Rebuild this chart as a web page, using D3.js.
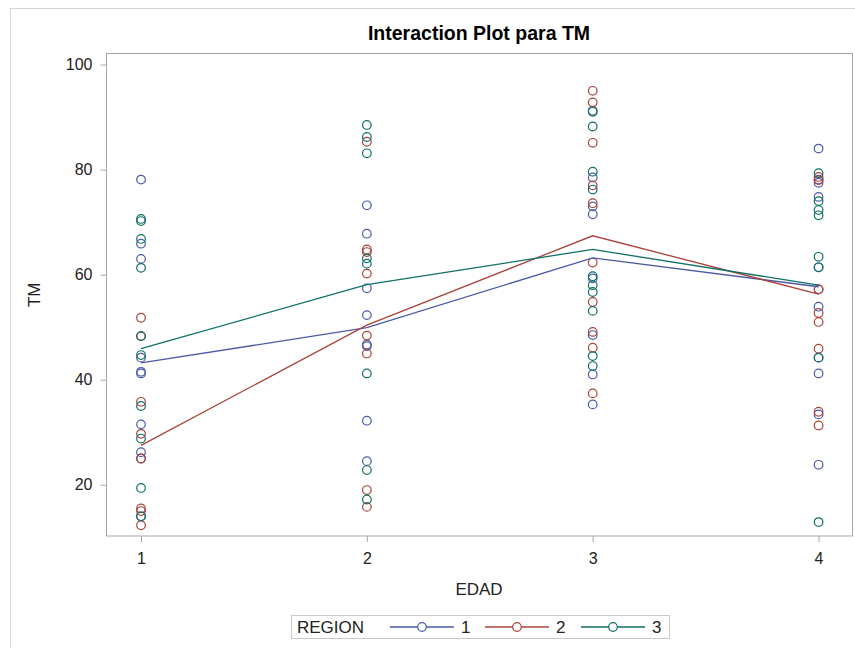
<!DOCTYPE html>
<html>
<head>
<meta charset="utf-8">
<script src="https://cdn.jsdelivr.net/npm/d3@7"></script>
<style>
  body { margin: 0; background: #fff; }
  text { font-family: "Liberation Sans", Arial, sans-serif; }
</style>
</head>
<body>
<svg id="chart" width="855" height="648"></svg>
<script>
// EDAD levels and regions
const edad = [1, 2, 3, 4];
const regions = ["1", "2", "3"];

// TM observations per EDAD level (index 0..3 -> EDAD 1..4)
const region1 = [
  [78.1, 65.9, 63.0, 44.2, 41.5, 41.2, 31.5, 26.2, 25.0, 14.0],
  [73.2, 67.8, 57.4, 52.3, 46.7, 46.4, 32.2, 24.5],
  [91.2, 78.5, 73.0, 71.5, 59.3, 48.5, 41.0, 35.3],
  [84.0, 78.1, 77.5, 74.8, 61.4, 57.2, 53.9, 44.2, 41.2, 33.4, 23.8]
];
const region2 = [
  [51.8, 48.3, 35.8, 29.7, 25.0, 15.5, 15.0, 12.3],
  [85.3, 64.8, 64.3, 60.2, 48.4, 45.0, 19.0, 15.8],
  [95.0, 92.8, 85.1, 77.0, 73.6, 62.3, 54.8, 49.1, 46.1, 37.4],
  [78.6, 78.0, 57.2, 52.7, 51.0, 45.9, 33.9, 31.3]
];
const region3 = [
  [70.6, 70.2, 66.8, 61.3, 48.3, 44.7, 35.0, 28.8, 19.4, 14.0],
  [88.5, 86.2, 83.1, 63.1, 62.1, 41.2, 22.8, 17.2],
  [91.0, 88.2, 79.6, 76.2, 59.7, 58.0, 56.7, 53.1, 44.5, 42.6],
  [79.3, 74.0, 72.3, 71.3, 63.4, 61.4, 44.2, 12.9]
];

// group means (lines)
const mean1 = [43.2, 49.9, 63.2, 57.7];
const mean2 = [27.5, 50.4, 67.4, 56.3];
const mean3 = [45.9, 58.1, 64.8, 58.0];

const yTicks = [20, 40, 60, 80, 100];
const colors = ["#4b5aa6", "#a8433a", "#0f6f66"];

const series = [
  { name: regions[0], obs: region1, means: mean1, color: colors[0] },
  { name: regions[1], obs: region2, means: mean2, color: colors[1] },
  { name: regions[2], obs: region3, means: mean3, color: colors[2] }
];

const svg = d3.select("#chart");
const plotLeft = 106, plotRight = 852, plotTop = 53.5, plotBottom = 536;

// outer border
svg.append("rect")
  .attr("x", 10.5).attr("y", 8.5)
  .attr("width", 900).attr("height", 700)
  .attr("fill", "none").attr("stroke", "#d4d4d4");

const x = d3.scaleLinear().domain([0.845, 4.148]).range([plotLeft, plotRight]);
const y = d3.scaleLinear().domain([10.25, 102.1]).range([plotBottom, plotTop]);

// title
svg.append("text")
  .attr("x", (plotLeft + plotRight) / 2).attr("y", 40)
  .attr("text-anchor", "middle")
  .style("font-size", "19.5px").style("font-weight", "bold")
  .style("fill", "#000")
  .text("Interaction Plot para TM");

// plot frame
svg.append("rect")
  .attr("x", plotLeft + 0.5).attr("y", plotTop)
  .attr("width", plotRight - plotLeft).attr("height", plotBottom - plotTop)
  .attr("fill", "none").attr("stroke", "#a3a7ab");

// axes
const xaxis = svg.append("g")
  .attr("transform", "translate(0," + plotBottom + ")")
  .call(d3.axisBottom(x).tickValues(edad).tickFormat(d3.format("d")).tickSize(6).tickSizeOuter(0));
xaxis.select(".domain").remove();
xaxis.selectAll("line").style("stroke", "#a3a7ab");
xaxis.selectAll("text")
  .attr("y", 17)
  .style("font-size", "16px").style("fill", "#222");

const yaxis = svg.append("g")
  .attr("transform", "translate(" + (plotLeft + 0.5) + ",0)")
  .call(d3.axisLeft(y).tickValues(yTicks).tickSize(6).tickSizeOuter(0));
yaxis.select(".domain").remove();
yaxis.selectAll("line").style("stroke", "#a3a7ab");
yaxis.selectAll("text")
  .attr("x", -14)
  .style("font-size", "16px").style("fill", "#222");

// axis titles
svg.append("text")
  .attr("x", (plotLeft + plotRight) / 2).attr("y", 595)
  .attr("text-anchor", "middle")
  .style("font-size", "17px").style("fill", "#222")
  .text("EDAD");

svg.append("text")
  .attr("transform", "translate(40," + ((plotTop + plotBottom) / 2) + ") rotate(-90)")
  .attr("text-anchor", "middle")
  .style("font-size", "17px").style("fill", "#222")
  .text("TM");

// observations
series.forEach(s => {
  const pts = [];
  s.obs.forEach((vals, i) => vals.forEach(v => pts.push({ e: edad[i], v: v })));
  svg.append("g").selectAll("circle")
    .data(pts)
    .enter()
    .append("circle")
    .attr("cx", d => x(d.e))
    .attr("cy", d => y(d.v))
    .attr("r", 4.3)
    .attr("fill", "none")
    .attr("stroke", s.color)
    .attr("stroke-width", 1.2);
});

// mean lines
const line = d3.line()
  .x((d, i) => x(edad[i]))
  .y(d => y(d));
series.forEach(s => {
  svg.append("path")
    .datum(s.means)
    .attr("d", line)
    .attr("fill", "none")
    .attr("stroke", s.color)
    .attr("stroke-width", 1.3);
});

// legend
const lg = svg.append("g");
lg.append("rect")
  .attr("x", 291.5).attr("y", 615.5)
  .attr("width", 378).attr("height", 23)
  .attr("fill", "#fff").attr("stroke", "#c8c8c8");
lg.append("text")
  .attr("x", 297).attr("y", 632.5)
  .style("font-size", "17px").style("fill", "#222")
  .text("REGION");
const lx = d3.scaleOrdinal().domain(regions).range([390, 485, 581]);
series.forEach(s => {
  const x0 = lx(s.name);
  lg.append("line")
    .attr("x1", x0).attr("x2", x0 + 64)
    .attr("y1", 627).attr("y2", 627)
    .attr("stroke", s.color).attr("stroke-width", 1.3);
  lg.append("circle")
    .attr("cx", x0 + 32).attr("cy", 627).attr("r", 4.3)
    .attr("fill", "#fff").attr("stroke", s.color).attr("stroke-width", 1.2);
  lg.append("text")
    .attr("x", x0 + 71).attr("y", 632.5)
    .style("font-size", "17px").style("fill", "#222")
    .text(s.name);
});
</script>
</body>
</html>
